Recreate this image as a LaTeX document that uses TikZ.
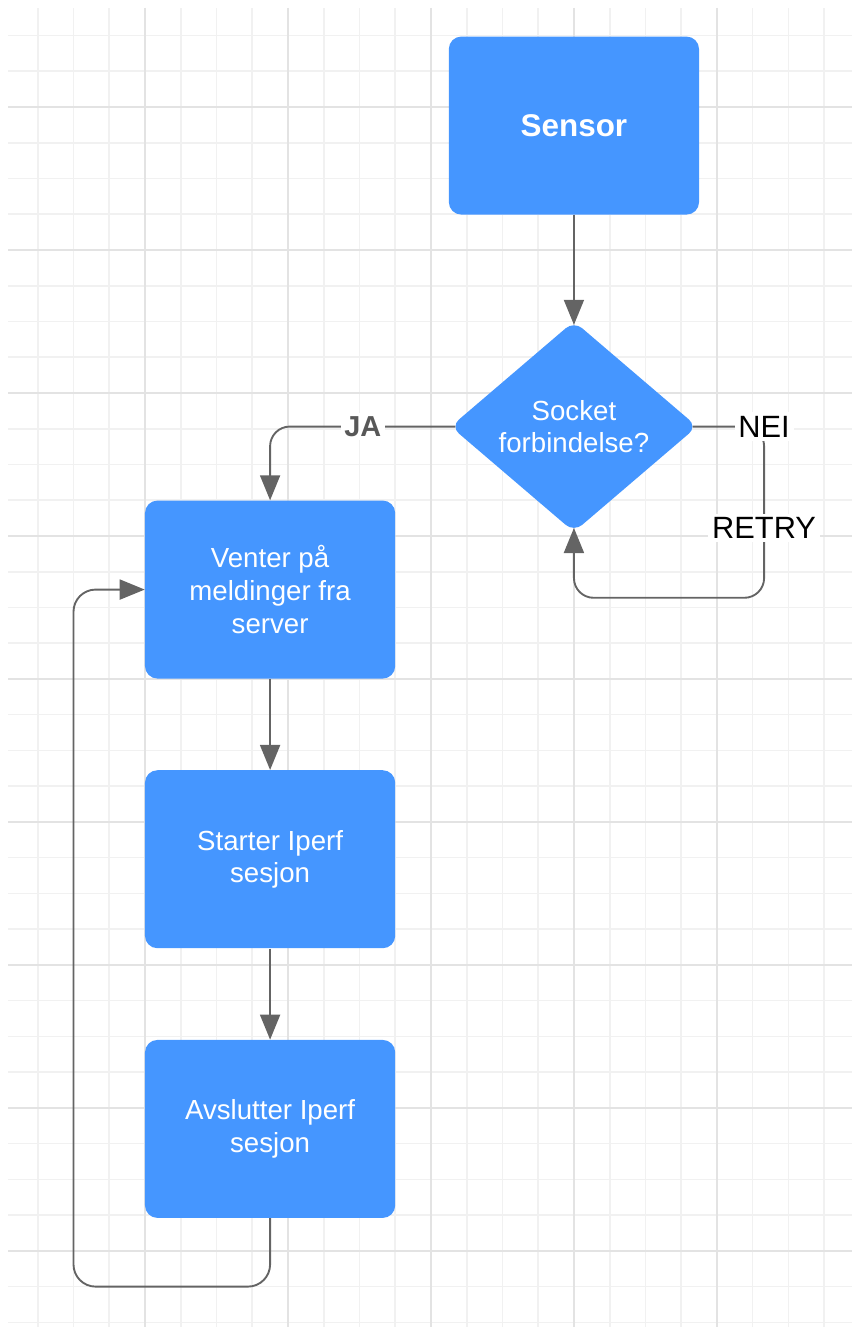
\documentclass[tikz,border=0pt]{standalone}
\usepackage{fontspec}
\setmainfont{Liberation Sans}
\usepackage{tikz}
\usetikzlibrary{positioning,shapes.geometric,arrows.meta}

\definecolor{boxblue}{RGB}{69,150,255}
\definecolor{linegray}{RGB}{100,100,100}
\definecolor{jagray}{RGB}{88,88,88}
\definecolor{gridminor}{RGB}{241,241,241}
\definecolor{gridmajor}{RGB}{227,227,227}

\begin{document}
\begin{tikzpicture}[
    box/.style={draw=none, fill=boxblue, rounded corners=0.35cm,
      minimum width=7cm, minimum height=4.98cm, text=white, align=center,
      font=\fontsize{22}{26}\selectfont},
    decision/.style={diamond, draw=none, fill=boxblue, rounded corners=0.3cm,
      minimum width=6.9cm, minimum height=5.9cm, inner sep=0pt, text=white,
      align=center, font=\fontsize{22}{26}\selectfont},
    conn/.style={draw=linegray, line width=1.5pt, rounded corners=0.55cm,
      -{Triangle[length=0.7cm,width=0.56cm]}},
    lbl/.style={fill=white, inner sep=3pt, rounded corners=0pt,
      font=\fontsize{24.5}{28}\selectfont}
  ]
  \useasboundingbox (-4.056,2.993) rectangle (19.776,-34.13);

  % grid
  \foreach \x in {-3,...,19}
    \draw[gridminor, line width=1.3pt] (\x,2.77) -- (\x,-34.13);
  \foreach \y in {-34,...,2}
    \draw[gridminor, line width=1.3pt] (-3.83,\y) -- (19.776,\y);
  \foreach \x in {0,4,...,16}
    \draw[gridmajor, line width=1.5pt] (\x,2.77) -- (\x,-34.13);
  \foreach \y in {0,-4,...,-32}
    \draw[gridmajor, line width=1.5pt] (-3.83,\y) -- (19.776,\y);

  \node[box, font=\bfseries\fontsize{25}{30}\selectfont] (sensor) at (12,-0.52) {Sensor};
  \node[decision] (sock) at (12,-8.94) {Socket\\forbindelse?};

  \node[box] (venter) at (3.5,-13.5) {Venter på\\meldinger fra\\server};
  \node[box, below=2.55cm of venter] (starter) {Starter Iperf\\sesjon};
  \node[box, below=2.55cm of starter] (avslutt) {Avslutter Iperf\\sesjon};

  \coordinate (retrybend) at (17.32,-13.73);
  \coordinate (loopbend) at (-2,-33);

  \draw[conn, shorten >=-0.11cm] (sensor.south) -- (sock.north);
  \draw[conn, shorten <=-0.14cm] (sock.west) -| node[lbl, pos=0.243, text=jagray,
      font=\bfseries\fontsize{23}{28}\selectfont] {JA} (venter.north);
  \draw[conn, shorten <=-0.14cm, shorten >=-0.12cm] (sock.east)
      -| node[lbl, pos=0.5] {NEI} node[lbl, pos=0.796] {RETRY} (retrybend)
      -| (sock.south);

  \draw[conn] (venter) -- (starter);
  \draw[conn] (starter) -- (avslutt);
  \draw[conn, rounded corners=0.62cm] (avslutt.south) |- (loopbend) |- (venter.west);
\end{tikzpicture}
\end{document}
